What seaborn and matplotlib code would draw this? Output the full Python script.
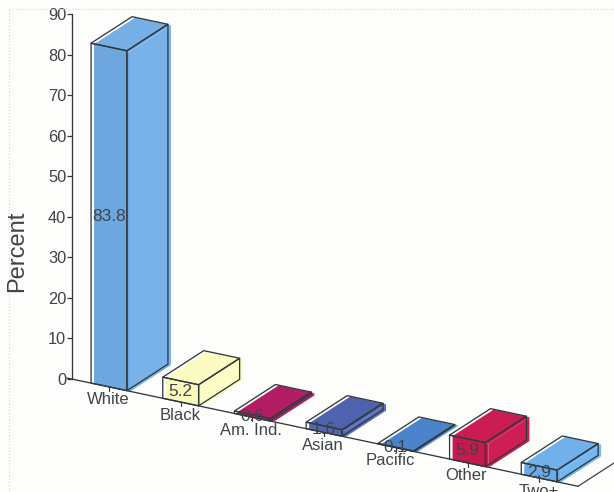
import matplotlib
matplotlib.use("Agg")
import matplotlib.pyplot as plt
import numpy as np
import seaborn as sns
from matplotlib.lines import Line2D
from matplotlib.patches import Polygon
from matplotlib.transforms import Affine2D, IdentityTransform

# Population shares by race, in percent
categories = ["White", "Black", "Am. Ind.", "Asian", "Pacific", "Other", "Two+"]
percent = [83.8, 5.2, 0.6, 1.6, 0.1, 5.9, 2.9]
front_colors = ["#6ea7de", "#fbfbbe", "#ad1c62", "#5366b2", "#4a80c6", "#c5194f", "#6aabe6"]
side_colors = ["#79b2e9", "#fdfdc6", "#b81f68", "#5a6fbe", "#4f88d0", "#cf1d56", "#74b6f0"]
top_colors = ["#76afe6", "#fcfcc2", "#b31d64", "#4f62ae", "#4c84cb", "#ca1b52", "#70b1eb"]
label_nudge = [-1, -1, -1, -1, -5, -1, 0]

W, H = 614, 492
INK = "#3f4447"
EDGE = "#32393d"
PAPER = "#fdfdfb"

sns.set_theme(style="white")
plt.rcParams["font.family"] = ["Liberation Sans", "DejaVu Sans"]

fig = plt.figure(figsize=(W / 100, H / 100), dpi=100, facecolor=PAPER)
ax = fig.add_axes([72 / W, 1 - 379 / H, (W - 72) / W, 365 / H])
ax.patch.set_alpha(0)

sns.barplot(x=categories, y=percent, hue=categories, palette=front_colors,
            width=0.5, legend=False, ax=ax, saturation=1)

ax.set_ylim(0, 90)
ax.set_xlim((72 - 109) / 71.7, (W - 109) / 71.7)
ax.set_yticks(range(0, 91, 10))
ax.tick_params(axis="y", left=True, length=3.6, width=0.9, color=EDGE, pad=0.5,
               labelsize=11.8, labelcolor=INK)
ax.tick_params(axis="x", bottom=False, labelbottom=False)
ax.set_xlabel("")
ax.set_ylabel("")
for name in ("top", "right", "bottom"):
    ax.spines[name].set_visible(False)
ax.spines["left"].set(color=EDGE, linewidth=0.95)

# The floor runs downhill to the right; bars recede up and to the right
SLOPE = 0.212
x0_disp = 72.0
shear = Affine2D(np.array([[1, 0, 0], [-SLOPE, 1, SLOPE * x0_disp], [0, 0, 1]]))
floor = ax.transData + shear
DEPTH = np.array([41.0, 26.5])
FILL_SHIFT = np.array([3.0, -1.0])


def add_face(points, color, zorder):
    ax.add_patch(Polygon(points, closed=True, facecolor=color, edgecolor="none",
                         transform=IdentityTransform(), clip_on=False, zorder=zorder))


def add_outline(points, zorder):
    ax.add_patch(Polygon(points, closed=True, fill=False, edgecolor=EDGE, linewidth=0.95,
                         joinstyle="round", transform=IdentityTransform(),
                         clip_on=False, zorder=zorder))


bars = sorted(ax.patches, key=lambda p: p.get_x())
for bar, side, top in zip(bars, side_colors, top_colors):
    x, w, h = bar.get_x(), bar.get_width(), bar.get_height()
    bl, br, tr, tl = floor.transform([(x, 0), (x + w, 0), (x + w, h), (x, h)])
    front = np.array([bl, br, tr, tl])
    side_face = np.array([br, br + DEPTH, tr + DEPTH, tr])
    top_face = np.array([tl, tr, tr + DEPTH, tl + DEPTH])

    # Paper-white underlay, then slightly offset colour, then the ink outlines
    for face in (front, side_face, top_face):
        add_face(face, "white", 2)
    add_face(side_face + FILL_SHIFT, side, 3)
    add_face(top_face + FILL_SHIFT, top, 3)
    bar.set_transform(floor + Affine2D().translate(*FILL_SHIFT))
    bar.set_clip_on(False)
    bar.set_edgecolor("none")
    bar.set_zorder(4)
    for face in (side_face, top_face, front):
        add_outline(face, 5)

# Floor edge, with its category ticks and the receding right-hand side
start, end = floor.transform([(ax.get_xlim()[0], 0), ((578 - 109) / 71.7, 0)])
fig_px = IdentityTransform()
ax.add_line(Line2D([start[0] - 5, end[0]], [start[1] + 1, end[1]], color=EDGE, lw=0.95,
                   transform=fig_px, clip_on=False, zorder=6))
corner = end + DEPTH * 1.2
ax.add_line(Line2D([end[0], corner[0]], [end[1], corner[1]], color=EDGE, lw=0.85,
                   transform=fig_px, clip_on=False, zorder=6))

for i, (name, value, nudge) in enumerate(zip(categories, percent, label_nudge)):
    bx, by = floor.transform((i, 0))
    ax.add_line(Line2D([bx, bx], [by, by - 4], color=EDGE, lw=0.85,
                       transform=fig_px, clip_on=False, zorder=6))
    ax.text(bx + nudge, by - 13, name, transform=fig_px, ha="center", va="center",
            fontsize=12, color=INK, clip_on=False, zorder=7)
    ax.text(i, value / 2, f"{value:g}", transform=floor, ha="center", va="center",
            fontsize=12.4, color=INK, clip_on=False, zorder=7)

fig.text(17 / W, 1 - 251 / H, "Percent", rotation=90, ha="center", va="center",
         fontsize=17, color=INK)

# Faint dotted page frame
frame = dict(color="#dcdcd8", lw=0.9, linestyle=(0, (1, 1.5)), transform=fig.transFigure)
fig.add_artist(Line2D([9 / W, 9 / W], [0, 1 - 9 / H], **frame))
fig.add_artist(Line2D([9 / W, 1], [1 - 9 / H, 1 - 9 / H], **frame))

fig.savefig("out.png", dpi=100, facecolor=PAPER)
